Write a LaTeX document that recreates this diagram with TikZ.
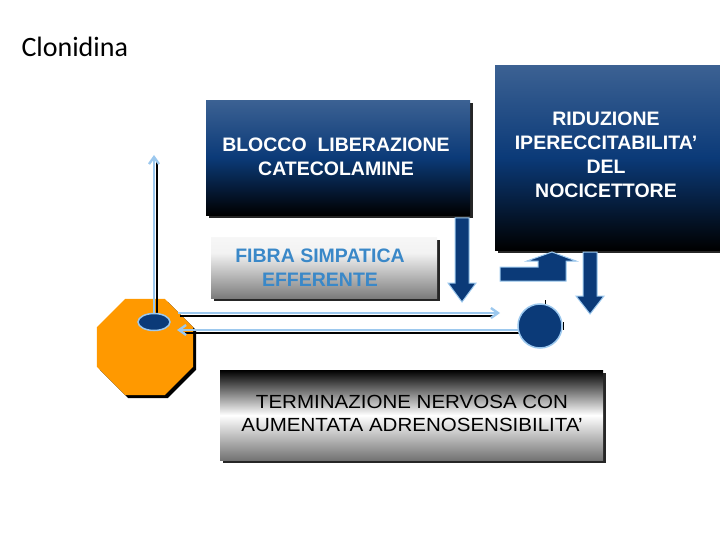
\documentclass[tikz,border=0pt]{standalone}
\usepackage{fontspec}
\setmainfont{Liberation Sans}
\newfontfamily\titlefont{Carlito}
\newfontfamily\widefont[FakeStretch=1.08]{Liberation Sans}
\usetikzlibrary{shapes.geometric,arrows.meta}
\definecolor{navy}{HTML}{0B3A78}
\definecolor{lblue}{HTML}{9CC8EE}
\definecolor{tblue}{HTML}{3A88C8}
\pgfdeclareverticalshading{fibrashade}{100bp}{color(0bp)=(black!85); color(30bp)=(black!45); color(62bp)=(black!5); color(100bp)=(white)}
\tikzset{
 bluebox/.style={top color=navy!80!white, bottom color=black, middle color=navy, draw=none, anchor=north west},
 boxtext/.style={text=white, font=\bfseries\fontsize{19.5}{24}\selectfont, align=center},
 shadowbox/.style={fill=black!85},
 thinarrow/.style={draw=lblue, line width=2.4pt, -{Straight Barb[length=7pt,width=10pt]}},
 thinshadow/.style={draw=black, line width=2.4pt},
 blockarrow/.style={draw=lblue, fill=navy, line width=1pt},
}
\begin{document}
\begin{tikzpicture}[x=1pt,y=-1pt]
\useasboundingbox (0,0) rectangle (720,540);
\node[anchor=west, font=\titlefont\fontsize{28}{32}\selectfont] (title) at (18,47) {Clonidina};
% octagon
\node[regular polygon, regular polygon sides=8, minimum size=104pt, fill=black, inner sep=0] at (148,350) {};
\node[regular polygon, regular polygon sides=8, minimum size=104pt, fill=orange!80!yellow, inner sep=0] (oct) at (145,347) {};
% vertical arrow
\draw[thinshadow] (157,313) -- (157,160);
\draw[thinarrow] (154,313) -- (154,155);
% horizontal arrows
\draw[thinshadow] (180,316) -- (495,316);
\draw[thinarrow] (178,313) -- (500,313);
\draw[thinshadow] (528,333) -- (185,333);
\draw[thinarrow] (530,330) -- (177,330);
\node[ellipse, minimum width=32pt, minimum height=17pt, fill=navy, draw=lblue, line width=1.5pt] (ell) at (154,322) {};
% circle
\draw[black, line width=1pt] (545,300) -- (545,310) (563,322) -- (563,330);
\node[circle, minimum size=44pt, fill=navy, draw=lblue, line width=1.5pt, inner sep=0] (circ) at (540,326) {};
% boxes
\fill[shadowbox] (209,103) rectangle (473,218);
\node[bluebox, minimum width=264pt, minimum height=115pt] (blocco) at (206,100) {};
\node[boxtext] (bloccot) at (336,157) {BLOCCO\ \ LIBERAZIONE\\CATECOLAMINE};
\fill[shadowbox] (498,68) rectangle (723,253);
\node[bluebox, minimum width=225pt, minimum height=185pt] (rid) at (495,65) {};
\node[boxtext] (ridt) at (606,155) {RIDUZIONE\\IPERECCITABILITA’\\DEL\\NOCICETTORE};
\fill[shadowbox] (214,240) rectangle (440,301);
\node[shading=fibrashade, minimum width=226pt, minimum height=61pt, anchor=north west] (fibra) at (211,237) {};
\node[boxtext, text=tblue] (fibrat) at (320,268) {FIBRA SIMPATICA\\EFFERENTE};
\fill[shadowbox] (223,373) rectangle (606,463);
\node[top color=black, bottom color=black!55, middle color=white, minimum width=383pt, minimum height=90pt, anchor=north west] (term) at (220,370) {};
\node[font=\widefont\fontsize{19}{23}\selectfont, align=center] (termt) at (412,413) {TERMINAZIONE NERVOSA CON\\AUMENTATA ADRENOSENSIBILITA’};
% block arrows down
\draw[blockarrow] (455,218) -- (469,218) -- (469,283) -- (476,283) -- (462,302) -- (448,283) -- (455,283) -- cycle;
\draw[blockarrow] (583,252) -- (597,252) -- (597,296) -- (604,296) -- (590,314) -- (576,296) -- (583,296) -- cycle;
% step arrow
\draw[blockarrow] (500,267) -- (538,267) -- (538,261) -- (527,261) -- (552,252) -- (576,261) -- (566,261) -- (566,281) -- (500,281) -- cycle;
\end{tikzpicture}
\end{document}
